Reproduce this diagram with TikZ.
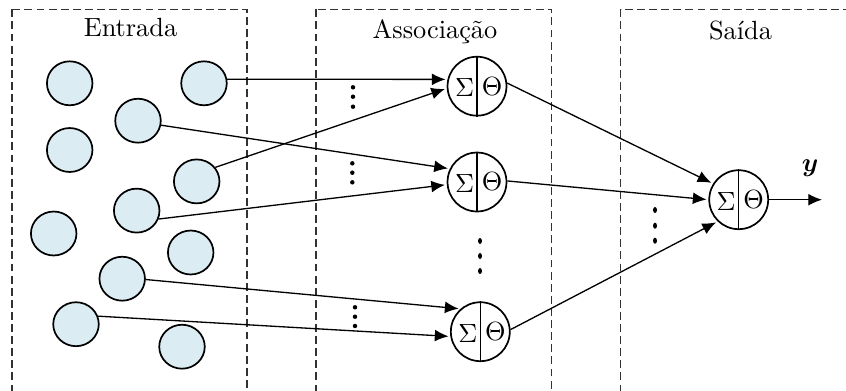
\documentclass[tikz,border=0pt]{standalone}
\usepackage{bm}
\usetikzlibrary{arrows.meta,shapes.geometric}
\definecolor{inblue}{RGB}{219,236,242}
\definecolor{boxgray}{RGB}{50,50,50}
\begin{document}
\begin{tikzpicture}[x=0.38pt,y=-0.38pt,
  inp/.style={ellipse,draw,line width=0.65pt,fill=inblue,minimum width=17.3pt,minimum height=16.7pt,inner sep=0pt},
  neuron/.style={circle,draw,line width=0.65pt,fill=white,minimum size=22.4pt,inner sep=0pt},
  conn/.style={line width=0.5pt,-{Latex[length=5.2pt,width=4.5pt]},shorten >=0.7pt},
  outconn/.style={line width=0.5pt,-{Latex[length=5.2pt,width=4.5pt]}},
  region/.style={draw=boxgray,line width=0.5pt,dash pattern=on 3pt off 1.6pt},
  lbl/.style={anchor=base,inner sep=0pt},
  symb/.style={inner sep=0pt},
  sdot/.style={circle,fill,inner sep=0pt,minimum size=1.7pt},
  bdot/.style={ellipse,fill,inner sep=0pt,minimum width=1.5pt,minimum height=2.3pt}]
\useasboundingbox (0,0) rectangle (846,390);
\clip (0,0) rectangle (846,390);
% regions
\draw[region] (12,9.3) rectangle (247,420);
\draw[region] (316,9.3) rectangle (551.7,420);
\draw[region] (620.7,9.3) rectangle (900,420);
\node[lbl] (tE) at (130.5,36) {Entrada};
\node[lbl] (tA) at (435,38) {Associação};
\node[lbl] (tS) at (740.5,39) {Saída};
% inputs
\node[inp] (c1) at (69.7,83.3) {};
\node[inp] (c2) at (204,83.3) {};
\node[inp] (c3) at (138,120.7) {};
\node[inp] (c4) at (69.7,150) {};
\node[inp] (c5) at (196.7,181.4) {};
\node[inp] (c6) at (136.7,210.6) {};
\node[inp] (c7) at (53.7,233.5) {};
\node[inp] (c8) at (190.7,252.5) {};
\node[inp] (c9) at (122.2,278.7) {};
\node[inp] (c10) at (76,324.2) {};
\node[inp] (c11) at (182,346.7) {};
% neurons
\node[neuron] (h1) at (477,86.2) {};
\node[neuron] (h2) at (477,182) {};
\node[neuron] (h3) at (480.3,331.7) {};
\node[neuron] (o) at (738.7,199.7) {};
\foreach \n in {h1,h2,h3,o}{
  \draw[line width=0.5pt] (\n.north) -- (\n.south);
  \node[symb] (\n-s) at ([shift={(-12.5,1.5)}]\n.center) {$\Sigma$};
  \node[symb] (\n-t) at ([shift={(15,0)}]\n.center) {$\Theta$};
}
% input connectors
\draw[conn] (c2.10.5) -- (h1.167);
\draw[conn] (c5.37.6) -- (h1.184);
\draw[conn] (c3.349) -- (h2.154);
\draw[conn] (c6.339.5) -- (h2.185);
\draw[conn] (c9.358.5) -- (h3.131);
\draw[conn] (c10.20) -- (h3.189);
% hidden to output
\draw[conn] (h1.6) -- (o.148);
\draw[conn] (h2.2) -- (o.180);
\draw[conn] (h3.4) -- (o.226);
% output
\coordinate (yend) at (822,199.7);
\draw[outconn] (o.east) -- (yend);
\node (ylab) at (810,168) {$\bm{y}$};
% dots
\foreach \yy [count=\i] in {87.3,96.7,106.7} \node[sdot] (da\i) at (353,\yy) {};
\foreach \yy [count=\i] in {163.3,172.7,182.3} \node[sdot] (db\i) at (352.3,\yy) {};
\foreach \yy [count=\i] in {307.3,316.7,326} \node[sdot] (dc\i) at (355,\yy) {};
\foreach \yy [count=\i] in {241,256,271} \node[bdot] (dd\i) at (480,\yy) {};
\foreach \yy [count=\i] in {210,225.7,240.7} \node[bdot] (de\i) at (655,\yy) {};
\end{tikzpicture}
\end{document}
